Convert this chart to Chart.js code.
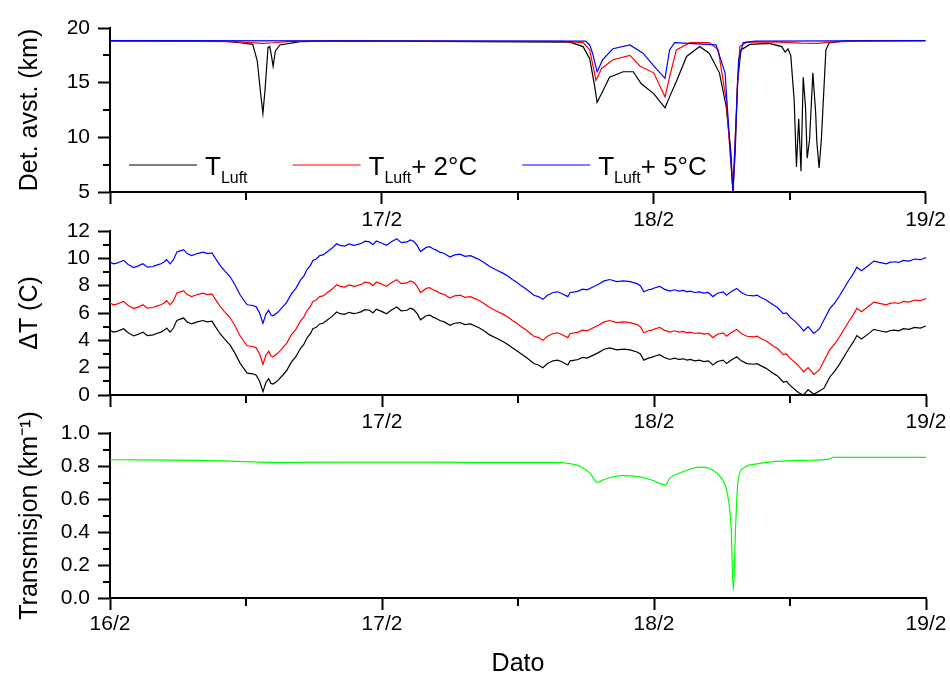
<!DOCTYPE html>
<html>
<head>
<meta charset="utf-8">
<script src="https://cdn.jsdelivr.net/npm/chart.js@4.4.1/dist/chart.umd.min.js"></script>
<style>
  html, body { margin: 0; padding: 0; background: #fff; }
  #wrap { position: relative; width: 950px; height: 677px; }
  canvas { position: absolute; left: 0; top: 0; }
</style>
</head>
<body>
<div id="wrap">
  <canvas id="detChart" width="950" height="677"></canvas>
  <canvas id="dtChart" width="950" height="677"></canvas>
  <canvas id="transChart" width="950" height="677"></canvas>
</div>
<script>
// x values are hours after 16/2 00:00
const dayLabels = ['16/2', '17/2', '18/2', '19/2'];
const legendParts = [['T', 'Luft', ''], ['T', 'Luft', '+ 2°C'], ['T', 'Luft', '+ 5°C']];
const colors = ['#000000', '#ff0000', '#0000ff'];

// Det. avst. (km)
const detBlackHours = [0, 10, 11.5, 12.6, 13.0, 13.3, 13.5, 13.7, 13.95, 14.1, 14.25, 14.4, 14.6, 15.0, 16.8, 20, 40.6, 41.76, 42.35, 42.8, 43.0, 43.4, 44.1, 45.3, 46.2, 46.9, 48.0, 49.0, 49.4, 50.0, 50.9, 52.05, 52.9, 53.8, 54.4, 54.8, 55.0, 55.2, 55.4, 55.7, 56.5, 58.2, 59.3, 59.6, 59.85, 60.1, 60.4, 60.6, 60.8, 61.0, 61.2, 61.4, 61.55, 61.76, 62.05, 62.3, 62.4, 62.6, 62.8, 63.2, 63.5, 65, 72];
const detBlack = [18.82, 18.8, 18.65, 18.5, 17.0, 14.0, 12.2, 14.5, 18.2, 18.3, 17.5, 16.5, 17.9, 18.45, 18.75, 18.82, 18.7, 18.3, 17.2, 14.6, 13.2, 14.0, 15.5, 16.0, 16.0, 14.9, 14.0, 12.7, 13.7, 15.1, 17.4, 18.3, 17.7, 15.9, 12.8, 8.8, 5.0, 8.8, 15.0, 18.0, 18.5, 18.6, 18.3, 17.8, 18.1, 17.5, 13.4, 7.3, 11.7, 6.9, 15.5, 12.8, 8.1, 9.8, 15.9, 12.2, 9.6, 7.2, 9.8, 18.0, 18.65, 18.82, 18.85];
const detRedHours = [0, 11, 13.5, 14.4, 16, 20, 40, 41.76, 42.35, 42.9, 43.4, 44.4, 45.9, 46.8, 48.0, 49.0, 49.4, 50.0, 51.2, 52.9, 53.7, 54.4, 55.0, 55.4, 55.6, 56.2, 59, 61, 62.5, 63.5, 66, 72];
const detRed = [18.82, 18.75, 18.6, 18.65, 18.78, 18.82, 18.78, 18.66, 18.0, 15.2, 16.3, 17.1, 17.5, 16.5, 15.9, 13.7, 15.5, 18.0, 18.66, 18.66, 18.0, 13.4, 5.0, 15.0, 18.3, 18.7, 18.7, 18.62, 18.6, 18.7, 18.82, 18.85];
const detBlueHours = [0, 42.0, 42.35, 42.6, 43.0, 43.5, 44.4, 45.9, 47.05, 48.2, 49.0, 49.4, 49.85, 53.5, 54.3, 55.0, 55.5, 55.9, 57, 72];
const detBlue = [18.85, 18.8, 18.45, 17.7, 16.0, 17.1, 18.1, 18.45, 17.7, 16.3, 15.4, 18.0, 18.66, 18.45, 15.9, 5.0, 17.1, 18.66, 18.8, 18.85];

// ΔT (C)
const dtHours = [0, 0.3, 0.6, 0.9, 1.2, 1.6, 2.1, 2.5, 2.9, 3.3, 3.8, 4.1, 4.5, 4.8, 5.0, 5.3, 5.6, 5.9, 6.2, 6.5, 6.8, 7.2, 7.7, 8.2, 8.6, 9.0, 9.3, 9.7, 10.1, 10.6, 11.0, 11.5, 11.8, 12.1, 12.6, 12.9, 13.2, 13.5, 13.75, 14.0, 14.2, 14.4, 14.8, 15.3, 15.6, 16.0, 16.4, 16.8, 17.1, 17.4, 17.7, 17.9, 18.2, 18.5, 18.8, 19.2, 19.6, 20.0, 20.3, 20.7, 21.1, 21.5, 21.8, 22.2, 22.5, 22.9, 23.2, 23.5, 24.0, 24.4, 24.8, 25.3, 25.7, 26.2, 26.5, 26.8, 27.1, 27.4, 27.9, 28.2, 28.5, 28.8, 29.1, 29.5, 30.0, 30.4, 30.9, 31.3, 31.8, 32.2, 32.6, 33.0, 33.5, 34.1, 34.7, 35.1, 35.5, 35.8, 36.2, 36.8, 37.4, 37.8, 38.2, 38.6, 39.1, 39.5, 39.8, 40.4, 40.6, 41.0, 41.3, 41.7, 42.1, 42.6, 43.1, 43.6, 44.1, 44.7, 45.3, 45.9, 46.5, 46.8, 47.1, 47.5, 47.8, 48.1, 48.5, 48.9, 49.4, 49.8, 50.2, 50.6, 50.9, 51.2, 51.6, 52.0, 52.4, 52.8, 53.2, 53.6, 54.1, 54.4, 54.8, 55.3, 55.7, 56.2, 56.8, 57.1, 57.4, 57.9, 58.5, 58.9, 59.4, 59.7, 60.0, 60.5, 60.9, 61.2, 61.6, 62.1, 62.6, 63.0, 63.5, 64.0, 64.4, 64.8, 65.2, 65.6, 65.9, 66.3, 66.8, 67.4, 67.9, 68.5, 68.8, 69.2, 69.6, 70.0, 70.5, 71.0, 71.5, 72.0];
const dtBlack = [4.73, 4.6, 4.65, 4.75, 4.85, 4.55, 4.32, 4.45, 4.6, 4.35,
    4.4, 4.5, 4.6, 4.75, 4.9, 4.6, 4.9, 5.46, 5.55, 5.63,
    5.35, 5.2, 5.35, 5.45, 5.35, 5.4, 5.0, 4.5, 4.1, 3.65,
    3.1, 2.3, 1.95, 1.6, 1.55, 1.45, 1.0, 0.25, 0.9, 1.2,
    0.85, 0.8, 1.05, 1.5, 1.8, 2.4, 2.8, 3.4, 3.7, 4.2,
    4.5, 4.85, 4.95, 5.2, 5.25, 5.5, 5.75, 6.07, 5.95, 5.9,
    6.05, 5.95, 6.0, 6.1, 6.25, 6.2, 6.0, 6.27, 6.1, 5.95,
    6.2, 6.44, 6.15, 6.2, 6.35, 6.25, 5.95, 5.5, 5.8, 5.85,
    5.7, 5.6, 5.45, 5.35, 5.1, 5.25, 5.3, 5.15, 5.2, 5.05,
    4.9, 4.7, 4.4, 4.15, 3.9, 3.7, 3.45, 3.3, 3.05, 2.7,
    2.3, 2.2, 2.0, 2.3, 2.5, 2.55, 2.45, 2.2, 2.5, 2.55,
    2.6, 2.75, 2.7, 2.9, 3.1, 3.35, 3.45, 3.3, 3.35, 3.3,
    3.15, 3.0, 2.55, 2.7, 2.75, 2.85, 2.95, 2.75, 2.6, 2.7,
    2.6, 2.65, 2.55, 2.6, 2.5, 2.55, 2.45, 2.5, 2.2, 2.45,
    2.55, 2.3, 2.55, 2.8, 2.5, 2.3, 2.25, 2.3, 2.15, 1.95,
    1.6, 1.4, 0.95, 1.0, 0.7, 0.35, 0.1, 0.0, 0.4, 0.05,
    0.3, 0.5, 1.3, 1.8, 2.3, 2.85, 3.4, 3.9, 4.35, 4.1,
    4.4, 4.8, 4.7, 4.6, 4.7, 4.75, 4.7, 4.85, 4.8, 4.95,
    4.9, 5.05];
const dtRed = [6.73, 6.6, 6.65, 6.75, 6.85, 6.55, 6.32, 6.45, 6.6, 6.35,
    6.4, 6.5, 6.6, 6.75, 6.9, 6.6, 6.9, 7.46, 7.55, 7.63,
    7.35, 7.2, 7.35, 7.45, 7.35, 7.4, 7.0, 6.5, 6.1, 5.65,
    5.1, 4.3, 3.95, 3.6, 3.55, 3.45, 3.0, 2.25, 2.9, 3.2,
    2.85, 2.8, 3.05, 3.5, 3.8, 4.4, 4.8, 5.4, 5.7, 6.2,
    6.5, 6.85, 6.95, 7.2, 7.25, 7.5, 7.75, 8.07, 7.95, 7.9,
    8.05, 7.95, 8.0, 8.1, 8.25, 8.2, 8.0, 8.27, 8.1, 7.95,
    8.2, 8.44, 8.15, 8.2, 8.35, 8.25, 7.95, 7.5, 7.8, 7.85,
    7.7, 7.6, 7.45, 7.35, 7.1, 7.25, 7.3, 7.15, 7.2, 7.05,
    6.9, 6.7, 6.4, 6.15, 5.9, 5.7, 5.45, 5.3, 5.05, 4.7,
    4.3, 4.2, 4.0, 4.3, 4.5, 4.55, 4.45, 4.2, 4.5, 4.55,
    4.6, 4.75, 4.7, 4.9, 5.1, 5.35, 5.45, 5.3, 5.35, 5.3,
    5.15, 5.0, 4.55, 4.7, 4.75, 4.85, 4.95, 4.75, 4.6, 4.7,
    4.6, 4.65, 4.55, 4.6, 4.5, 4.55, 4.45, 4.5, 4.2, 4.45,
    4.55, 4.3, 4.55, 4.8, 4.5, 4.3, 4.25, 4.3, 4.15, 3.95,
    3.6, 3.4, 2.95, 3.0, 2.7, 2.35, 2.0, 1.7, 2.0, 1.5,
    1.85, 2.5, 3.3, 3.8, 4.3, 4.85, 5.4, 5.9, 6.35, 6.1,
    6.4, 6.8, 6.7, 6.6, 6.7, 6.75, 6.7, 6.85, 6.8, 6.95,
    6.9, 7.05];
const dtBlue = [9.73, 9.6, 9.65, 9.75, 9.85, 9.55, 9.32, 9.45, 9.6, 9.35,
    9.4, 9.5, 9.6, 9.75, 9.9, 9.6, 9.9, 10.46, 10.55, 10.63,
    10.35, 10.2, 10.35, 10.45, 10.35, 10.4, 10.0, 9.5, 9.1, 8.65,
    8.1, 7.3, 6.95, 6.6, 6.55, 6.45, 6.0, 5.25, 5.9, 6.2,
    5.85, 5.8, 6.05, 6.5, 6.8, 7.4, 7.8, 8.4, 8.7, 9.2,
    9.5, 9.85, 9.95, 10.2, 10.25, 10.5, 10.75, 11.07, 10.95, 10.9,
    11.05, 10.95, 11.0, 11.1, 11.25, 11.2, 11.0, 11.27, 11.1, 10.95,
    11.2, 11.44, 11.15, 11.2, 11.35, 11.25, 10.95, 10.5, 10.8, 10.85,
    10.7, 10.6, 10.45, 10.35, 10.1, 10.25, 10.3, 10.15, 10.2, 10.05,
    9.9, 9.7, 9.4, 9.15, 8.9, 8.7, 8.45, 8.3, 8.05, 7.7,
    7.3, 7.2, 7.0, 7.3, 7.5, 7.55, 7.45, 7.2, 7.5, 7.55,
    7.6, 7.75, 7.7, 7.9, 8.1, 8.35, 8.45, 8.3, 8.35, 8.3,
    8.15, 8.0, 7.55, 7.7, 7.75, 7.85, 7.95, 7.75, 7.6, 7.7,
    7.6, 7.65, 7.55, 7.6, 7.5, 7.55, 7.45, 7.5, 7.2, 7.45,
    7.55, 7.3, 7.55, 7.8, 7.5, 7.3, 7.25, 7.3, 7.15, 6.95,
    6.6, 6.4, 5.95, 6.0, 5.7, 5.35, 5.0, 4.7, 5.0, 4.5,
    4.85, 5.5, 6.3, 6.8, 7.3, 7.85, 8.4, 8.9, 9.35, 9.1,
    9.4, 9.8, 9.7, 9.6, 9.7, 9.75, 9.7, 9.85, 9.8, 9.95,
    9.9, 10.05];

// Transmisjon (km-1)
const transHours = [0, 8, 15.6, 24, 32, 39, 40.5, 41.5, 42.35, 43.0, 43.5, 44.4, 45.3, 46.5, 47.8, 49.0, 49.4, 50.0, 50.6, 52.05, 52.9, 53.5, 54.1, 54.4, 54.8, 55.0, 55.2, 55.4, 55.9, 57.1, 58.2, 61.2, 63.5, 63.8, 72];
const trans = [0.838, 0.834, 0.822, 0.824, 0.822, 0.822, 0.815, 0.797, 0.757, 0.70, 0.715, 0.735, 0.742, 0.737, 0.715, 0.686, 0.727, 0.75, 0.767, 0.793, 0.785, 0.76, 0.71, 0.655, 0.43, 0.047, 0.43, 0.70, 0.787, 0.813, 0.824, 0.834, 0.842, 0.852, 0.852];

Chart.defaults.font.family = '"Liberation Sans", Arial, sans-serif';
Chart.defaults.color = '#000';

function pts(xs, ys) {
    return xs.map((x, i) => ({ x: x, y: ys[i] }));
}

const minorTicks = {
    id: 'minorTicks',
    afterDraw(chart, args, opts) {
        const ctx = chart.ctx, xs = chart.scales.x, ys = chart.scales.y;
        ctx.save();
        ctx.strokeStyle = '#000';
        ctx.lineWidth = 2;
        (opts.x || []).forEach(v => {
            const px = Math.round(xs.getPixelForValue(v));
            ctx.beginPath(); ctx.moveTo(px, xs.top); ctx.lineTo(px, xs.top + 8); ctx.stroke();
        });
        (opts.y || []).forEach(v => {
            const py = Math.round(ys.getPixelForValue(v));
            ctx.beginPath(); ctx.moveTo(ys.right - 7, py); ctx.lineTo(ys.right, py); ctx.stroke();
        });
        ctx.restore();
    }
};

const subLegend = {
    id: 'subLegend',
    afterDraw(chart) {
        const ctx = chart.ctx, area = chart.chartArea;
        let x = area.left + 19;
        const y = 165;
        ctx.save();
        chart.data.datasets.forEach((ds, i) => {
            const [main, sub, rest] = legendParts[i];
            ctx.strokeStyle = ds.borderColor;
            ctx.lineWidth = 1.2;
            ctx.beginPath(); ctx.moveTo(x, y); ctx.lineTo(x + 68, y); ctx.stroke();
            x += 76;
            ctx.fillStyle = '#000';
            ctx.textBaseline = 'alphabetic';
            ctx.font = '26px "Liberation Sans", Arial';
            ctx.fillText(main, x, 175);
            x += ctx.measureText(main).width;
            ctx.font = '16px "Liberation Sans", Arial';
            ctx.fillText(sub, x, 183);
            x += ctx.measureText(sub).width;
            ctx.font = '26px "Liberation Sans", Arial';
            ctx.fillText(rest, x, 175);
            x += ctx.measureText(rest).width + 45;
        });
        ctx.restore();
    }
};

function makeChart(id, datasets, o) {
    return new Chart(document.getElementById(id), {
        type: 'line',
        data: { datasets: datasets },
        plugins: [minorTicks].concat(o.extra || []),
        options: {
            responsive: false,
            animation: false,
            events: [],
            layout: { padding: { left: 0, right: 24, top: o.padTop, bottom: o.padBottom } },
            elements: { point: { radius: 0 }, line: { borderWidth: 1.2 } },
            plugins: {
                legend: { display: false },
                tooltip: { enabled: false },
                minorTicks: { x: [12, 36, 60], y: o.minorY }
            },
            scales: {
                x: {
                    type: 'linear', min: 0, max: 72,
                    border: { color: '#000', width: 2 },
                    grid: { drawOnChartArea: false, tickLength: 12, tickWidth: 2, tickColor: '#000' },
                    ticks: {
                        stepSize: 24, maxRotation: 0, autoSkip: false, padding: o.xPad, font: { size: 21 },
                        callback: v => (o.hideFirst && v === 0) ? '' : dayLabels[v / 24]
                    },
                    title: o.xTitle ? { display: true, text: o.xTitle, font: { size: 25, lineHeight: 1 }, padding: 0 } : { display: false },
                    afterFit: s => { s.height = o.xHeight; }
                },
                y: {
                    min: o.yMin, max: o.yMax,
                    border: { color: '#000', width: 2 },
                    grid: { drawOnChartArea: false, tickLength: 12, tickWidth: 2, tickColor: '#000' },
                    ticks: { stepSize: o.yStep, autoSkip: false, padding: 8, font: { size: 21 }, callback: o.yFmt },
                    title: { display: true, text: o.yTitle, font: { size: 25 }, padding: { top: 15, bottom: 0 } },
                    afterFit: s => { s.width = 110; }
                }
            }
        }
    });
}

makeChart('detChart', [
    { label: 'TLuft', data: pts(detBlackHours, detBlack), borderColor: colors[0], order: 2 },
    { label: 'TLuft + 2°C', data: pts(detRedHours, detRed), borderColor: colors[1], order: 1 },
    { label: 'TLuft + 5°C', data: pts(detBlueHours, detBlue), borderColor: colors[2], order: 0 }
], {
    padTop: 28, padBottom: 445, xHeight: 40, xPad: 4, hideFirst: true,
    yMin: 5, yMax: 20, yStep: 5, yFmt: v => v, minorY: [7.5, 12.5, 17.5],
    yTitle: 'Det. avst. (km)', extra: [subLegend]
});

makeChart('dtChart', [
    { label: 'TLuft', data: pts(dtHours, dtBlack), borderColor: colors[0] },
    { label: 'TLuft + 2°C', data: pts(dtHours, dtRed), borderColor: colors[1] },
    { label: 'TLuft + 5°C', data: pts(dtHours, dtBlue), borderColor: colors[2] }
], {
    padTop: 231, padBottom: 242, xHeight: 40, xPad: 3, hideFirst: true,
    yMin: 0, yMax: 12, yStep: 2, yFmt: v => v, minorY: [1, 3, 5, 7, 9, 11],
    yTitle: 'ΔT (C)'
});

makeChart('transChart', [
    { label: 'Transmisjon', data: pts(transHours, trans), borderColor: '#00ff00', cubicInterpolationMode: 'monotone' }
], {
    padTop: 433, padBottom: 0, xHeight: 79, xPad: 2, hideFirst: false, xTitle: 'Dato',
    yMin: 0, yMax: 1, yStep: 0.2, yFmt: v => v.toFixed(1), minorY: [0.1, 0.3, 0.5, 0.7, 0.9],
    yTitle: 'Transmisjon (km⁻¹)'
});
</script>
</body>
</html>
